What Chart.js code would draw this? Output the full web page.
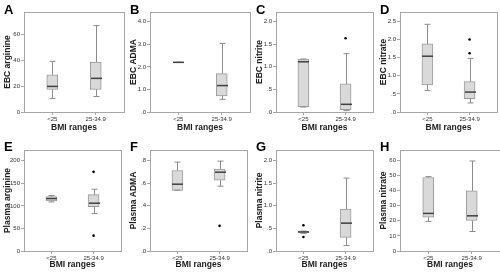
<!DOCTYPE html>
<html>
<head>
<meta charset="utf-8">
<script src="https://cdn.jsdelivr.net/npm/chart.js@4.4.0/dist/chart.umd.min.js"></script>
<style>
  html, body { margin: 0; padding: 0; background: #fff; }
  #wrap { position: relative; width: 500px; height: 274px; overflow: hidden; }
  .panel { position: absolute; width: 125px; height: 137px; }
  .panel canvas { position: absolute; left: 0; top: 0; }
  .letter { position: absolute; left: 4px; top: 2px; font: bold 13px "Liberation Sans", Arial, sans-serif; color: #000; }
</style>
</head>
<body>
<div id="wrap"></div>
<script>
// groups on the x axis
const groups = ['<25', '25-34.9'];
const letters = ['A', 'B', 'C', 'D', 'E', 'F', 'G', 'H'];
const yTitles = ['EBC arginine', 'EBC ADMA', 'EBC nitrite', 'EBC nitrate',
  'Plasma arginine', 'Plasma ADMA', 'Plasma nitrite', 'Plasma nitrate'];

// each group: [lower whisker, Q1, median, Q3, upper whisker]
const ebcArginine = [[10.3, 17.3, 19.7, 28.7, 39.0], [11.9, 17.3, 25.9, 38.5, 66.5]];
const ebcAdma = [[2.2, 2.2, 2.2, 2.2, 2.2], [0.56, 0.71, 1.17, 1.70, 3.04]];
const ebcNitrite = [[0.11, 0.12, 1.11, 1.17, 1.17], [0.03, 0.05, 0.17, 0.62, 1.29]];
const ebcNitrate = [[0.59, 0.75, 1.54, 1.88, 2.42], [0.25, 0.37, 0.55, 0.84, 1.48]];
const plasmaArginine = [[108.9, 111, 116.3, 120.7, 123], [83, 98.5, 106, 125, 137]];
const plasmaAdma = [[0.536, 0.536, 0.59, 0.711, 0.785], [0.572, 0.625, 0.696, 0.723, 0.794]];
const plasmaNitrite = [[0.39, 0.40, 0.42, 0.437, 0.44], [0.12, 0.30, 0.615, 0.926, 1.61]];
const plasmaNitrate = [[19.6, 22.4, 24.9, 48.7, 49.3], [12.9, 20.2, 23.3, 39.8, 59.6]];

// outliers per group
const ebcArginineOut = [[], []];
const ebcAdmaOut = [[], []];
const ebcNitriteOut = [[], [1.63]];
const ebcNitrateOut = [[], [2.0, 1.62]];
const plasmaArginineOut = [[], [175.5, 34]];
const plasmaAdmaOut = [[], [0.222]];
const plasmaNitriteOut = [[0.57, 0.31], []];
const plasmaNitrateOut = [[], []];

// y axis: top of axis, tick step, decimals
const yMax = [77, 4.43, 2.21, 2.76, 224, 0.892, 2.23, 66.9];
const yStep = [20, 1, 0.5, 0.5, 50, 0.2, 0.5, 10];
const yDecimals = [0, 1, 1, 1, 0, 1, 1, 0];

const boxes = [ebcArginine, ebcAdma, ebcNitrite, ebcNitrate,
  plasmaArginine, plasmaAdma, plasmaNitrite, plasmaNitrate];
const outliers = [ebcArginineOut, ebcAdmaOut, ebcNitriteOut, ebcNitrateOut,
  plasmaArginineOut, plasmaAdmaOut, plasmaNitriteOut, plasmaNitrateOut];

const FONT = '"Liberation Sans", Arial, sans-serif';
const colLeft = [0, 126, 252, 376];
const rowTop = [0, 137];
const areaTop = [12, 13];
const areaBottom = [112, 114];

function fmt(v, d) {
  let s = v.toFixed(d);
  if (s.startsWith('0.')) s = s.slice(1);
  return s;
}

// whiskers, caps, medians and the frame round the plot
const boxPlugin = {
  id: 'boxWhiskers',
  afterDatasetsDraw(chart, args, opts) {
    const { ctx, chartArea } = chart;
    const xs = chart.scales.x, ys = chart.scales.y;
    ctx.save();
    opts.stats.forEach((s, i) => {
      const x = Math.round(xs.getPixelForValue(i)) + 0.5;
      const p = s.map(v => ys.getPixelForValue(v));
      ctx.strokeStyle = '#8c8c8c';
      ctx.lineWidth = 1;
      ctx.beginPath();
      ctx.moveTo(x, p[4]); ctx.lineTo(x, p[3]);
      ctx.moveTo(x, p[1]); ctx.lineTo(x, p[0]);
      ctx.moveTo(x - 3, p[4]); ctx.lineTo(x + 3, p[4]);
      ctx.moveTo(x - 3, p[0]); ctx.lineTo(x + 3, p[0]);
      ctx.stroke();
      ctx.strokeStyle = '#404040';
      ctx.lineWidth = 1.5;
      ctx.beginPath();
      ctx.moveTo(x - 5.5, p[2]); ctx.lineTo(x + 5.5, p[2]);
      ctx.stroke();
    });
    ctx.strokeStyle = '#a6a6a6';
    ctx.lineWidth = 1;
    ctx.strokeRect(Math.round(chartArea.left) + 0.5, Math.round(chartArea.top) + 0.5,
      Math.round(chartArea.width), Math.round(chartArea.height));
    ctx.restore();
  }
};

const wrap = document.getElementById('wrap');

boxes.forEach((stats, k) => {
  const row = Math.floor(k / 4), col = k % 4;
  const div = document.createElement('div');
  div.className = 'panel';
  div.style.left = colLeft[col] + 'px';
  div.style.top = rowTop[row] + 'px';
  const canvas = document.createElement('canvas');
  canvas.width = 125; canvas.height = 137;
  div.appendChild(canvas);
  const lab = document.createElement('div');
  lab.className = 'letter';
  lab.textContent = letters[k];
  div.appendChild(lab);
  wrap.appendChild(div);

  const outPts = [];
  outliers[k].forEach((list, i) => list.forEach(v => outPts.push({ x: i, y: v })));

  new Chart(canvas.getContext('2d'), {
    data: {
      datasets: [
        {
          type: 'bar',
          data: stats.map((s, i) => ({ x: i, y: [s[1], s[3]] })),
          backgroundColor: '#d9d9d9',
          borderColor: '#9a9a9a',
          borderWidth: 1,
          borderSkipped: false,
          barThickness: 11
        },
        {
          type: 'scatter',
          data: outPts,
          pointRadius: 1.3,
          pointBackgroundColor: '#000',
          pointBorderWidth: 0
        }
      ]
    },
    options: {
      responsive: false,
      animation: false,
      events: [],
      layout: { padding: { top: areaTop[row], right: 1, left: 0, bottom: 0 } },
      plugins: {
        legend: { display: false },
        tooltip: { enabled: false },
        boxWhiskers: { stats: stats }
      },
      scales: {
        x: {
          type: 'linear',
          offset: false,
          min: -0.65,
          max: 1.65,
          afterBuildTicks: (s) => { s.ticks = [{ value: 0 }, { value: 1 }]; },
          afterFit: (s) => { s.height = 137 - areaBottom[row]; },
          grid: { offset: false, drawOnChartArea: false, drawTicks: true, tickLength: 3, color: '#a6a6a6' },
          border: { display: false },
          ticks: {
            autoSkip: false,
            maxRotation: 0,
            padding: 1,
            color: '#333',
            font: { family: FONT, size: 6 },
            callback: (v) => groups[v]
          },
          title: {
            display: true,
            text: 'BMI ranges',
            color: '#222',
            font: { family: FONT, size: 8.5, weight: 'bold' },
            padding: { top: 0, bottom: 4 }
          }
        },
        y: {
          min: 0,
          max: yMax[k],
          afterFit: (s) => { s.width = 24; },
          grid: { drawOnChartArea: false, drawTicks: true, tickLength: 3, color: '#a6a6a6' },
          border: { display: false },
          ticks: {
            stepSize: yStep[k],
            includeBounds: false,
            padding: 1,
            color: '#333',
            font: { family: FONT, size: 6 },
            callback: (v) => fmt(v, yDecimals[k])
          },
          title: {
            display: true,
            text: yTitles[k],
            color: '#222',
            font: { family: FONT, size: 8.5, weight: 'bold' },
            padding: { top: 3, bottom: 0 }
          }
        }
      }
    },
    plugins: [boxPlugin]
  });
});
</script>
</body>
</html>
